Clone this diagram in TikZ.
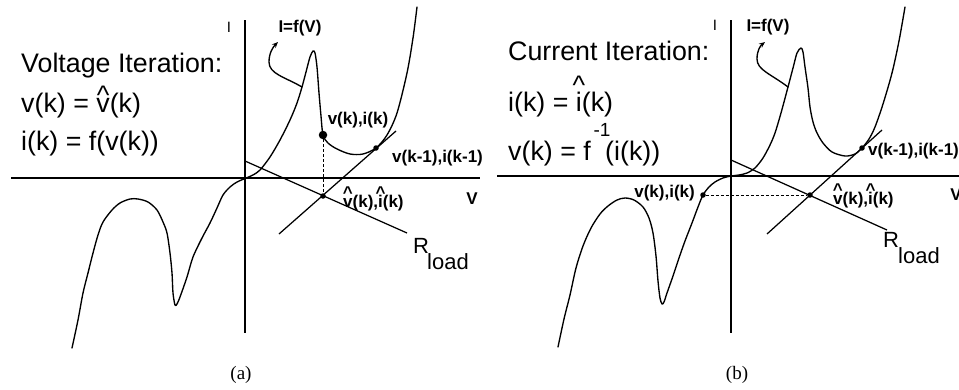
\documentclass[tikz,border=0pt]{standalone}
\usepackage{fontspec}
\setmainfont{Liberation Sans}
\newfontfamily\capfont{Liberation Serif}
\usetikzlibrary{arrows.meta}
\newcommand\hatover[2]{\ooalign{#2\cr\hidewidth\raisebox{#1}{\textasciicircum}\hidewidth\cr}}
\tikzset{
  axisline/.style={line width=1.5pt},
  curveline/.style={line width=1.35pt, line join=round, line cap=round},
  ln/.style={line width=1.25pt},
  dashln/.style={line width=1pt, dash pattern=on 3pt off 2pt},
  dot/.style={circle, fill=black, inner sep=0pt, minimum size=5.5pt},
  bigdot/.style={dot, minimum size=8.5pt},
  bigtext/.style={font=\fontsize{26.8}{30}\selectfont, inner sep=0pt, anchor=base west},
  lbl/.style={font=\bfseries\fontsize{17}{20}\selectfont, inner sep=0pt},
  rlbl/.style={font=\fontsize{22}{24}\selectfont, inner sep=0pt, anchor=west},
  axlbl/.style={font=\fontsize{15}{17}\selectfont, inner sep=0pt},
  caplbl/.style={font=\capfont\fontsize{19}{21}\selectfont, inner sep=0pt},
  arr/.style={curveline, -{Stealth[length=6pt,width=5pt]}}
}
\begin{document}
\begin{tikzpicture}[x=1pt,y=-1pt]
\useasboundingbox (0,0) rectangle (959,389);
% ---------------- panel (a) ----------------
\begin{scope}[shift={(245,178)}]
  \coordinate (aL) at (-234,0); \coordinate (aR) at (235,0);
  \coordinate (aT) at (0,-158); \coordinate (aB) at (0,155);
  \draw[axisline] (aL) -- (aR);
  \draw[axisline] (aT) -- (aB);
  \draw[curveline] plot[smooth, tension=0.5] coordinates {
    (-173,170) (-167,142) (-162,115) (-157,95) (-152,75) (-147,57) (-142,44)
    (-133,32) (-125,25) (-115,21) (-107,21) (-97,24) (-88,32) (-82,44) (-78,55)
    (-75,75) (-73,95) (-72,115) (-70,127) (-68,126) (-65,119) (-58,99) (-52,79)
    (-43,60) (-35,45) (-28,30) (-22,17) (-15,9) (-8,4) (0,0.5) (8,-3) (15,-8)
    (25,-21) (35,-38) (45,-58) (52,-75) (57,-91) (61,-106) (65,-121) (68,-127)
    (70,-125) (72,-111) (74,-85) (76,-62) (78,-43) (83,-35) (92,-29) (105,-24)
    (118,-24) (131,-30) (142,-43) (152,-65) (162,-105) (168,-140) (172,-171)};
  \coordinate (aload1) at (0,-17); \coordinate (aload2) at (162,55);
  \coordinate (atan1) at (34,56); \coordinate (atan2) at (151,-47);
  \draw[ln] (aload1) -- (aload2);
  \draw[ln] (atan1) -- (atan2);
  \node[bigdot] (avk) at (78,-43) {};
  \node[dot] (avk1) at (131,-30) {};
  \node[dot] (ahat) at (78,18) {};
  \draw[dashln] (avk) -- (ahat);
  \node[axlbl] (aI) at (-16,-151) {I};
  \node[lbl] (afv) at (55,-150) {I=f(V)};
  \coordinate (afs) at (57,-91); \coordinate (afe) at (33,-136);
  \draw[arr] (afs) .. controls (40,-101) and (24,-104) .. (24,-116)
             .. controls (24,-125) and (28,-131) .. (afe);
  \node[lbl] (avkl) at (113,-58) {v(k),i(k)};
  \node[lbl, anchor=west] (avk1l) at (147,-20) {v(k-1),i(k-1)};
  \node[lbl, anchor=west] (ahatl) at (98,25) {\hatover{.5em}{v}(k),\hatover{.5em}{i}(k)};
  \node[lbl] (aV) at (227,21) {V};
  \node[rlbl] (aRR) at (168,68) {R};
  \node[rlbl] (aload) at (182,84) {load};
\end{scope}
\node[bigtext] (at1) at (21,72) {Voltage Iteration:};
\node[bigtext] (at2) at (21,112) {v(k) = \hatover{.28em}{v}(k)};
\node[bigtext] (at3) at (21,150) {i(k) = f(v(k))};
\node[caplbl] (acap) at (241,375) {(a)};
% ---------------- panel (b) ----------------
\begin{scope}[shift={(731,176)}]
  \coordinate (bL) at (-234,0); \coordinate (bR) at (240,0);
  \coordinate (bT) at (0,-156); \coordinate (bB) at (0,157);
  \draw[axisline] (bL) -- (bR);
  \draw[axisline] (bT) -- (bB);
  \draw[curveline] plot[smooth, tension=0.5] coordinates {
    (-173,171) (-167,143) (-161,119) (-155,92) (-148,70) (-140,52) (-131,38)
    (-123,30) (-114,24) (-106,22) (-97,24) (-88,31) (-82,42) (-78,57) (-75,80)
    (-73,105) (-71,122) (-69,128) (-67,126) (-64,117) (-58,100) (-52,82)
    (-46,65) (-39,47) (-33,31) (-28,19) (-22,11) (-16,6) (-8,2) (0,0) (8,-1)
    (16,-3) (24,-8) (32,-18) (39,-31) (44,-43) (50,-63) (57,-89) (62,-108)
    (66,-123) (70,-128) (72,-124) (74,-109) (77,-88) (79,-69) (82,-54) (86,-43)
    (92,-33) (101,-24) (114,-20) (124,-22) (131,-28) (138,-37) (144,-49)
    (152,-72) (161,-103) (168,-135) (174,-169)};
  \coordinate (bload1) at (0,-16); \coordinate (bload2) at (156,54);
  \coordinate (btan1) at (36,58); \coordinate (btan2) at (151,-46);
  \draw[ln] (bload1) -- (bload2);
  \draw[ln] (btan1) -- (btan2);
  \node[dot] (bvk) at (-28,19) {};
  \node[dot] (bvk1) at (131,-28) {};
  \node[dot] (bhat) at (79,19) {};
  \draw[dashln] (bvk) -- (bhat);
  \node[axlbl] (bI) at (-16,-151) {I};
  \node[lbl] (bfv) at (37,-149) {I=f(V)};
  \coordinate (bfs) at (57,-89); \coordinate (bfe) at (34,-134);
  \draw[arr] (bfs) .. controls (40,-102) and (26,-106) .. (26,-117)
             .. controls (26,-125) and (29,-130) .. (bfe);
  \node[lbl, anchor=east] (bvkl) at (-36,17) {v(k),i(k)};
  \node[lbl, anchor=west] (bvk1l) at (137,-25) {v(k-1),i(k-1)};
  \node[lbl, anchor=west] (bhatl) at (102,24) {\hatover{.5em}{v}(k),\hatover{.5em}{i}(k)};
  \node[lbl] (bV) at (225,19) {V};
  \node[rlbl] (bRR) at (152,64) {R};
  \node[rlbl] (bload) at (167,80) {load};
\end{scope}
\node[bigtext] (bt1) at (508,60) {Current Iteration:};
\node[bigtext] (bt2) at (508,111) {i(k) = \hatover{.62em}{i}(k)};
\node[bigtext] (bt3) at (508,160) {v(k) = f};
\node[font=\fontsize{19}{21}\selectfont, inner sep=0pt] (bsup) at (602,130) {-1};
\node[bigtext] (bt4) at (605,160) {(i(k))};
\node[caplbl] (bcap) at (737,375) {(b)};
\end{tikzpicture}
\end{document}
